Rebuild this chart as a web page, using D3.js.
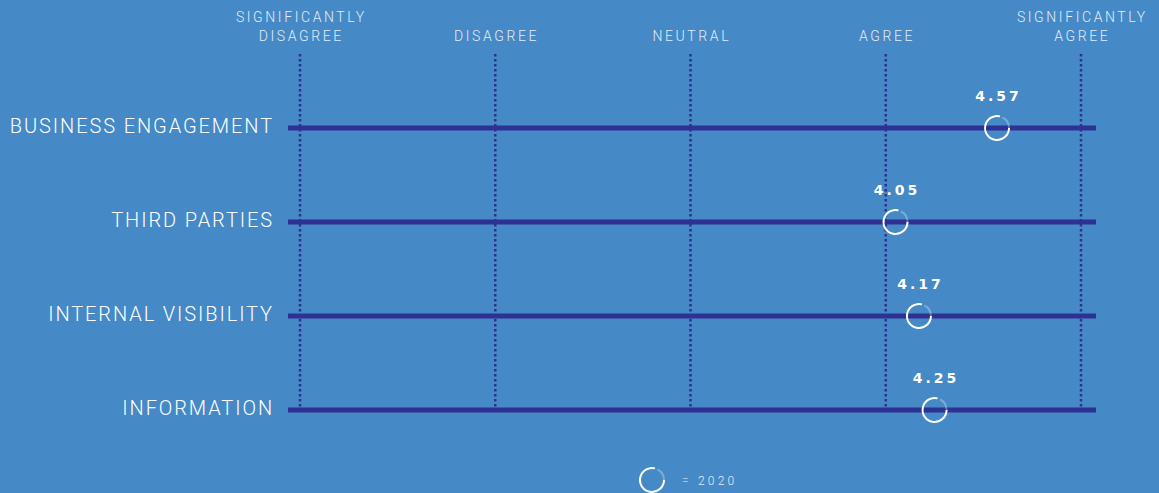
<!DOCTYPE html>
<html>
<head>
<meta charset="utf-8">
<script src="https://cdn.jsdelivr.net/npm/d3@7"></script>
<style>
  html, body { margin: 0; padding: 0; background: #4589c6; }
  svg { display: block; }
  text { font-family: Roboto, "Liberation Sans", sans-serif; fill: #ffffff; }
</style>
</head>
<body>
<svg id="chart" width="1159" height="493"></svg>
<script>
// Survey categories and 2020 average scores (1–5 scale)
const categories = ["BUSINESS ENGAGEMENT", "THIRD PARTIES", "INTERNAL VISIBILITY", "INFORMATION"];
const scores2020 = [4.57, 4.05, 4.17, 4.25];
const scaleTicks = [1, 2, 3, 4, 5];
const scaleLabels = [
  ["SIGNIFICANTLY", "DISAGREE"],
  ["DISAGREE"],
  ["NEUTRAL"],
  ["AGREE"],
  ["SIGNIFICANTLY", "AGREE"]
];
const legendLabel = "= 2020";

const svg = d3.select("#chart");
const lineColor = "#2e3192";

const x = d3.scaleLinear().domain([1, 5]).range([300, 1081]);
const y = d3.scalePoint().domain(categories).range([128, 410]);

// dotted vertical reference lines
svg.append("g").selectAll("line").data(scaleTicks).join("line")
  .attr("x1", d => x(d)).attr("x2", d => x(d))
  .attr("y1", 54).attr("y2", 408)
  .attr("stroke", lineColor).attr("stroke-width", 2.5)
  .attr("stroke-dasharray", "2.6,2.4");

// scale headings
const head = svg.append("g").selectAll("text").data(scaleTicks).join("text")
  .attr("x", d => x(d))
  .attr("text-anchor", "middle")
  .style("font-size", "14px")
  .style("font-weight", 300)
  .style("letter-spacing", "2.6px")
  .style("fill", "#e3ecf7");
head.each(function(d, i) {
  const lines = scaleLabels[i];
  const t = d3.select(this);
  lines.forEach((l, j) => {
    t.append("tspan")
      .attr("x", x(d) + 1.3)
      .attr("y", 41 - (lines.length - 1 - j) * 19)
      .text(l);
  });
});

// horizontal category bars
svg.append("g").selectAll("line").data(categories).join("line")
  .attr("x1", 288).attr("x2", 1096)
  .attr("y1", d => y(d)).attr("y2", d => y(d))
  .attr("stroke", lineColor).attr("stroke-width", 5);

// category labels
svg.append("g").selectAll("text").data(categories).join("text")
  .attr("x", 274).attr("y", d => y(d) + 5)
  .attr("text-anchor", "end")
  .style("font-size", "20px")
  .style("letter-spacing", "1.9px")
  .style("font-weight", 300)
  .text(d => d);

// open-circle marker
const arcMain = d3.arc().innerRadius(11).outerRadius(13)
  .startAngle(Math.PI * 0.5).endAngle(Math.PI * 2.08);
const arcFade = d3.arc().innerRadius(11).outerRadius(13)
  .startAngle(Math.PI * 0.15).endAngle(Math.PI * 0.5);
function marker(g) {
  g.append("path").attr("d", arcMain()).attr("fill", "#ffffff");
  g.append("path").attr("d", arcFade()).attr("fill", "#ffffff").attr("opacity", 0.3);
}

const pts = svg.append("g").selectAll("g").data(categories).join("g")
  .attr("transform", (d, i) => `translate(${x(scores2020[i])},${y(d)})`);
pts.each(function() { marker(d3.select(this)); });
pts.append("text")
  .attr("y", -27)
  .attr("x", 1.5)
  .attr("text-anchor", "middle")
  .style("font-family", "'DejaVu Sans', sans-serif")
  .style("font-size", "14px")
  .style("font-weight", 700)
  .style("letter-spacing", "3px")
  .text((d, i) => scores2020[i].toFixed(2));

// legend
const lg = svg.append("g").attr("transform", "translate(652,480)");
marker(lg);
lg.append("text").attr("x", 30).attr("y", 4.5)
  .style("font-size", "12px").style("letter-spacing", "3.2px")
  .style("font-weight", 300)
  .style("fill", "#e3ecf7")
  .text(legendLabel);
</script>
</body>
</html>
